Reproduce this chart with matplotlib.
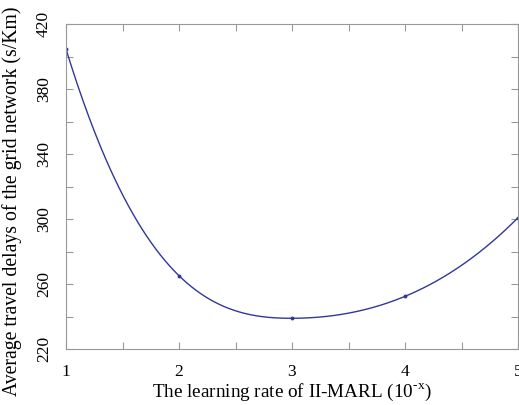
import numpy as np
import matplotlib
matplotlib.use("Agg")
from matplotlib import pyplot as plt

rates = [1, 2, 3, 4, 5]
delays = [404.6, 265.1, 238.9, 252.4, 300.8]

plt.rcParams["font.family"] = ["Liberation Serif", "DejaVu Serif"]
plt.rcParams["mathtext.fontset"] = "stix"


def spline_not_a_knot(x, y, n=400):
    # cubic spline with not-a-knot ends (like matlab's spline), only for the drawn line
    x = np.asarray(x, float)
    y = np.asarray(y, float)
    k = len(x)
    h = np.diff(x)
    A = np.zeros((k, k))
    r = np.zeros(k)
    for i in range(1, k - 1):
        A[i, i - 1] = h[i - 1]
        A[i, i] = 2 * (h[i - 1] + h[i])
        A[i, i + 1] = h[i]
        r[i] = 6 * ((y[i + 1] - y[i]) / h[i] - (y[i] - y[i - 1]) / h[i - 1])
    A[0, 0], A[0, 1], A[0, 2] = h[1], -(h[0] + h[1]), h[0]
    A[-1, -3], A[-1, -2], A[-1, -1] = h[-1], -(h[-2] + h[-1]), h[-2]
    M = np.linalg.solve(A, r)
    xs = np.linspace(x[0], x[-1], n)
    i = np.clip(np.searchsorted(x, xs, side="right") - 1, 0, k - 2)
    a = x[i + 1] - xs
    b = xs - x[i]
    ys = (M[i] * a ** 3 + M[i + 1] * b ** 3) / (6 * h[i]) \
        + (y[i] / h[i] - M[i] * h[i] / 6) * a + (y[i + 1] / h[i] - M[i + 1] * h[i] / 6) * b
    return xs, ys


fig = plt.figure(figsize=(5.19, 4.05), dpi=100)
ax = fig.add_axes([66 / 519, 1 - 349 / 405, 452 / 519, 325 / 405])

xs, ys = spline_not_a_knot(rates, delays)
ax.plot(xs, ys, color="#33379a", lw=1.0)
ax.plot(rates, delays, ls="none", marker="o", ms=1.8, color="#33379a")

ax.set_xlim(1, 5)
ax.set_ylim(220, 420)
ax.set_xticks([1, 2, 3, 4, 5])
ax.set_xticks([1.5, 2.5, 3.5, 4.5], minor=True)
ax.set_yticks(np.arange(220, 421, 40))
ax.set_yticks(np.arange(240, 420, 40), minor=True)
ax.tick_params(which="both", direction="in", top=True, right=True,
               color="#999999", labelsize=12.5)
ax.tick_params(which="both", length=5, width=0.8)
ax.tick_params(axis="x", pad=11)
ax.tick_params(axis="y", pad=10)
for lab in ax.get_yticklabels():
    lab.set_rotation(90)
    lab.set_va("center")
for s in ax.spines.values():
    s.set_color("#999999")
    s.set_linewidth(0.8)

ax.set_xlabel("The learning rate of II-MARL (10$^{\\mathregular{\u2010x}}$)", fontsize=13.8, labelpad=1)
ax.set_ylabel("Average travel delays of the grid network (s/Km)", fontsize=14.2)
ax.yaxis.set_label_coords(-0.098, 0.455)

fig.savefig("out.png", dpi=100)
